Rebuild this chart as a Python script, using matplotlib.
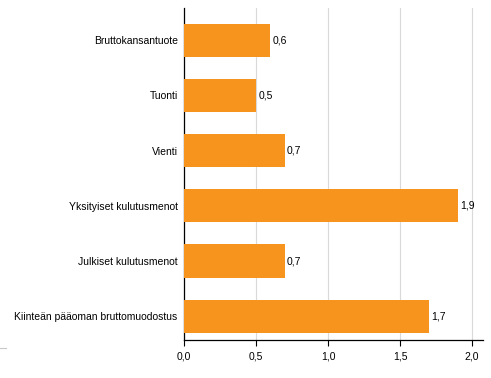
import matplotlib
matplotlib.use("Agg")
import matplotlib.pyplot as plt
from matplotlib.lines import Line2D

categories = ["Bruttokansantuote", "Tuonti", "Vienti", "Yksityiset kulutusmenot",
              "Julkiset kulutusmenot", "Kiinteän pääoman bruttomuodostus"]
values = [0.6, 0.5, 0.7, 1.9, 0.7, 1.7]
xticks = [0.0, 0.5, 1.0, 1.5, 2.0]

plt.rcParams['font.family'] = ['Liberation Sans', 'DejaVu Sans']
plt.rcParams['font.size'] = 7.5

fig = plt.figure(figsize=(4.91, 3.78), dpi=100)
ax = fig.add_axes([0.3747, 0.1005, 0.609, 0.878])

pos = list(range(len(categories)))
ax.barh(pos, values, height=0.6, color='#F7941D', zorder=3)
for p, v in zip(pos, values):
    ax.text(v + 0.015, p, f"{v:.1f}".replace('.', ','), va='center', ha='left')

ax.set_yticks(pos)
ax.set_yticklabels(categories)
ax.set_ylim(5.43, -0.58)
ax.set_xlim(0, 2.076)
ax.set_xticks(xticks)
ax.set_xticklabels([f"{t:.1f}".replace('.', ',') for t in xticks])
ax.xaxis.grid(True, color='#d9d9d9', linewidth=0.8, zorder=0)
ax.tick_params(axis='y', length=0, pad=4.5)
ax.tick_params(axis='x', length=4, width=0.8, direction='out', pad=4)
for s in ['top', 'right']:
    ax.spines[s].set_visible(False)
ax.spines['left'].set_linewidth(0.9)
ax.spines['bottom'].set_linewidth(0.9)

# small stray grey dash in the lower left corner
fig.add_artist(Line2D([0.0, 0.012], [0.079, 0.079], color='#c8c8c8', linewidth=0.8,
                      transform=fig.transFigure))

fig.savefig("out.png", dpi=100)
